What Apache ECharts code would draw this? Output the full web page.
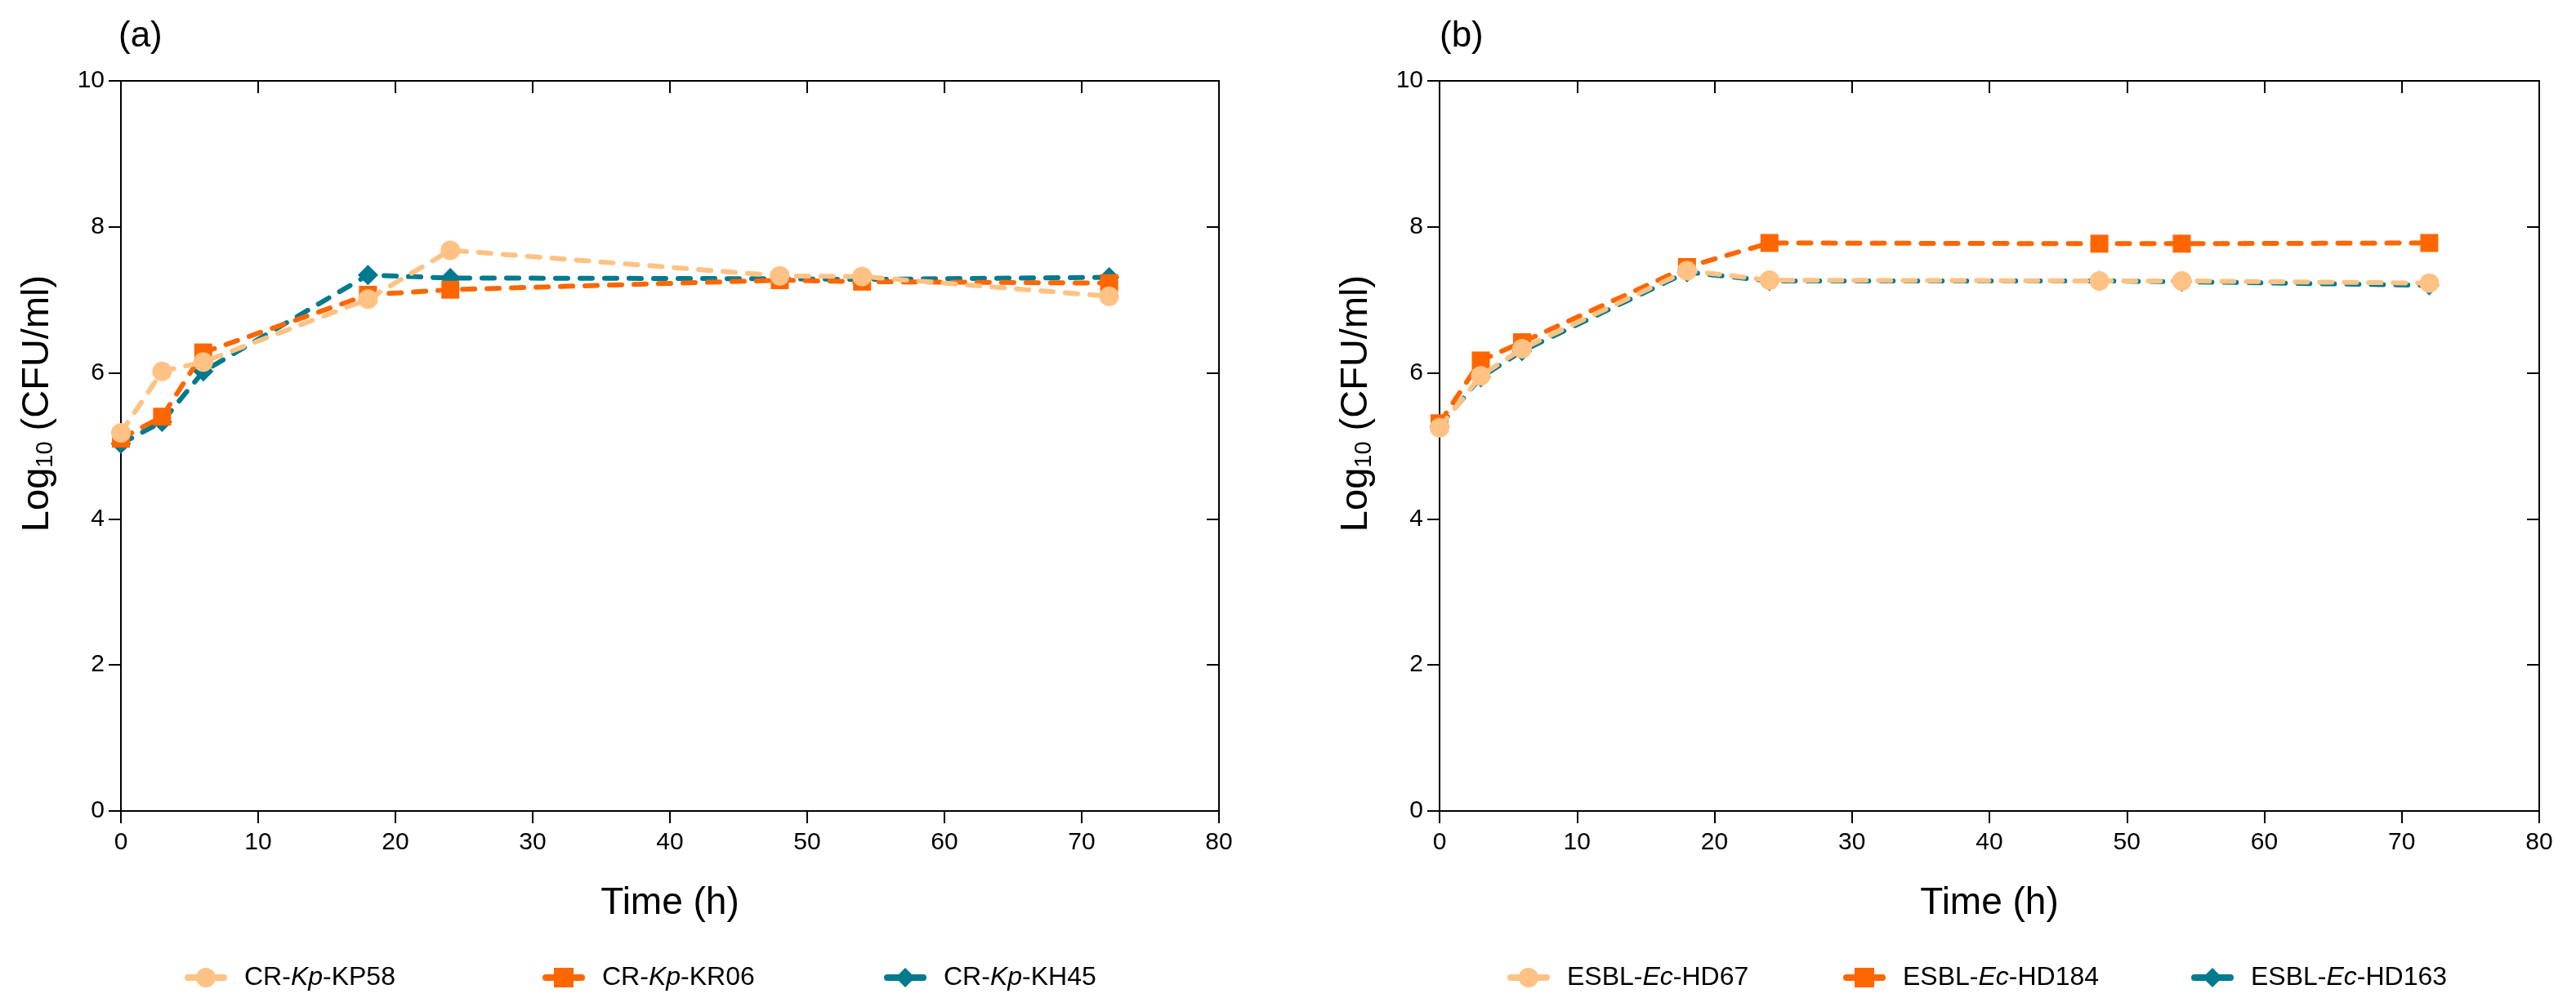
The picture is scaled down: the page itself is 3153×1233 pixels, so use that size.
<!DOCTYPE html>
<html>
<head>
<meta charset="utf-8">
<script src="https://cdn.jsdelivr.net/npm/echarts@6/dist/echarts.min.js"></script>
<style>
html,body{margin:0;padding:0;background:#fff;}
#chart{width:3153px;height:1233px;}
</style>
</head>
<body>
<div id="chart"></div>
<script>
// ---- data ----
const times = [0, 3, 6, 18, 24, 48, 54, 72];
const namesA = ['CR-Kp-KP58', 'CR-Kp-KR06', 'CR-Kp-KH45'];
const kp58 = [5.18, 6.02, 6.15, 7.01, 7.68, 7.33, 7.32, 7.05];
const kr06 = [5.10, 5.40, 6.28, 7.07, 7.14, 7.27, 7.25, 7.23];
const kh45 = [5.03, 5.33, 6.02, 7.34, 7.30, 7.29, 7.28, 7.31];
const namesB = ['ESBL-Ec-HD67', 'ESBL-Ec-HD184', 'ESBL-Ec-HD163'];
const hd67 = [5.25, 5.96, 6.33, 7.40, 7.27, 7.26, 7.26, 7.23];
const hd184 = [5.31, 6.17, 6.42, 7.45, 7.78, 7.77, 7.77, 7.78];
const hd163 = [5.27, 5.94, 6.30, 7.38, 7.26, 7.26, 7.25, 7.20];
const xMin = 0, xMax = 80, xStep = 10;
const yMin = 0, yMax = 10, yStep = 2;
const panelLabels = ['(a)', '(b)'];
const xTitle = 'Time (h)';
const yTitleParts = ['Log', '10', ' (CFU/ml)'];

// ---- style ----
const FONT = "'Liberation Sans', Arial, Helvetica, sans-serif";
const colors = ['#FFC285', '#FF6600', '#007A8E'];
const symbols = ['circle', 'rect', 'diamond'];
const symSizes = [24, 22, 25];
const zs = [4, 3, 2];

const grids = [
  {left: 148, top: 99, width: 1344, height: 894},
  {left: 1762, top: 99, width: 1346, height: 894}
];

function pairs(vals) { return times.map((t, i) => [t, vals[i]]); }

const xAxes = [], yAxes = [];
grids.forEach((g, gi) => {
  xAxes.push({
    type: 'value', gridIndex: gi, position: 'bottom', min: xMin, max: xMax, interval: xStep,
    name: xTitle, nameLocation: 'middle', nameGap: 90,
    nameTextStyle: {fontFamily: FONT, fontSize: 46, color: '#000'},
    axisLine: {show: true, onZero: false, lineStyle: {color: '#000', width: 2}},
    axisTick: {show: true, length: 15, lineStyle: {color: '#000', width: 2}},
    axisLabel: {fontFamily: FONT, fontSize: 30, color: '#000', margin: 24},
    splitLine: {show: false}
  });
  xAxes.push({
    type: 'value', gridIndex: gi, position: 'top', min: xMin, max: xMax, interval: xStep,
    axisLine: {show: true, onZero: false, lineStyle: {color: '#000', width: 2}},
    axisTick: {show: true, inside: true, length: 15, lineStyle: {color: '#000', width: 2}},
    axisLabel: {show: false}, splitLine: {show: false}
  });
  yAxes.push({
    type: 'value', gridIndex: gi, position: 'left', min: yMin, max: yMax, interval: yStep,
    axisLine: {show: true, onZero: false, lineStyle: {color: '#000', width: 2}},
    axisTick: {show: true, length: 15, lineStyle: {color: '#000', width: 2}},
    axisLabel: {fontFamily: FONT, fontSize: 30, color: '#000', margin: 20},
    splitLine: {show: false}
  });
  yAxes.push({
    type: 'value', gridIndex: gi, position: 'right', min: yMin, max: yMax, interval: yStep,
    axisLine: {show: true, onZero: false, lineStyle: {color: '#000', width: 2}},
    axisTick: {show: true, inside: true, length: 15, lineStyle: {color: '#000', width: 2}},
    axisLabel: {show: false}, splitLine: {show: false}
  });
});

function mkSeries(name, vals, k, gi) {
  return {
    name: name, type: 'line', xAxisIndex: gi * 2, yAxisIndex: gi * 2,
    data: pairs(vals), z: zs[k],
    symbol: symbols[k], symbolSize: symSizes[k],
    itemStyle: {color: colors[k]},
    lineStyle: {color: colors[k], width: 6, type: [15, 15], cap: 'round'},
    emphasis: {disabled: true}, animation: false
  };
}

const series = [
  mkSeries(namesA[0], kp58, 0, 0), mkSeries(namesA[1], kr06, 1, 0), mkSeries(namesA[2], kh45, 2, 0),
  mkSeries(namesB[0], hd67, 0, 1), mkSeries(namesB[1], hd184, 1, 1), mkSeries(namesB[2], hd163, 2, 1)
];

function fmt(name) {
  const p = name.split('-');
  return p[0] + '-{i|' + p[1] + '}-' + p[2];
}
const legendLefts = [221, 659, 1077, 1840, 2251, 2677];
const allNames = namesA.concat(namesB);
const legends = allNames.map((n, i) => ({
  data: [n], left: legendLefts[i], top: 1176, orient: 'horizontal',
  itemWidth: 44, itemHeight: 30,
  lineStyle: {type: 'solid', width: 8},
  formatter: fmt, selectedMode: false,
  textStyle: {fontFamily: FONT, fontSize: 32, color: '#000', padding: [0, 0, 0, 20],
    rich: {i: {fontFamily: FONT, fontSize: 32, color: '#000', fontStyle: 'italic'}}}
}));

const titles = panelLabels.map((t, i) => ({
  text: t, left: [140, 1757][i], top: 18,
  textStyle: {fontFamily: FONT, fontSize: 44, fontWeight: 'normal', color: '#000'}
}));

const yTitleText = '{m|' + yTitleParts[0] + '}{s|' + yTitleParts[1] + '}{m|' + yTitleParts[2] + '}';
const graphics = grids.map(g => ({
  type: 'text', x: g.left - 102, y: 494, rotation: Math.PI / 2, silent: true,
  style: {
    text: yTitleText, align: 'center', verticalAlign: 'middle', fill: '#000',
    fontFamily: FONT, fontSize: 47,
    rich: {
      m: {fontFamily: FONT, fontSize: 47, lineHeight: 48, verticalAlign: 'bottom', fill: '#000'},
      s: {fontFamily: FONT, fontSize: 29, lineHeight: 20, verticalAlign: 'bottom', fill: '#000'}
    }
  }
}));

const chart = echarts.init(document.getElementById('chart'), null, {renderer: 'canvas'});
chart.setOption({
  backgroundColor: '#fff',
  animation: false,
  title: titles,
  legend: legends,
  grid: grids,
  xAxis: xAxes,
  yAxis: yAxes,
  graphic: graphics,
  series: series
});
</script>
</body>
</html>
